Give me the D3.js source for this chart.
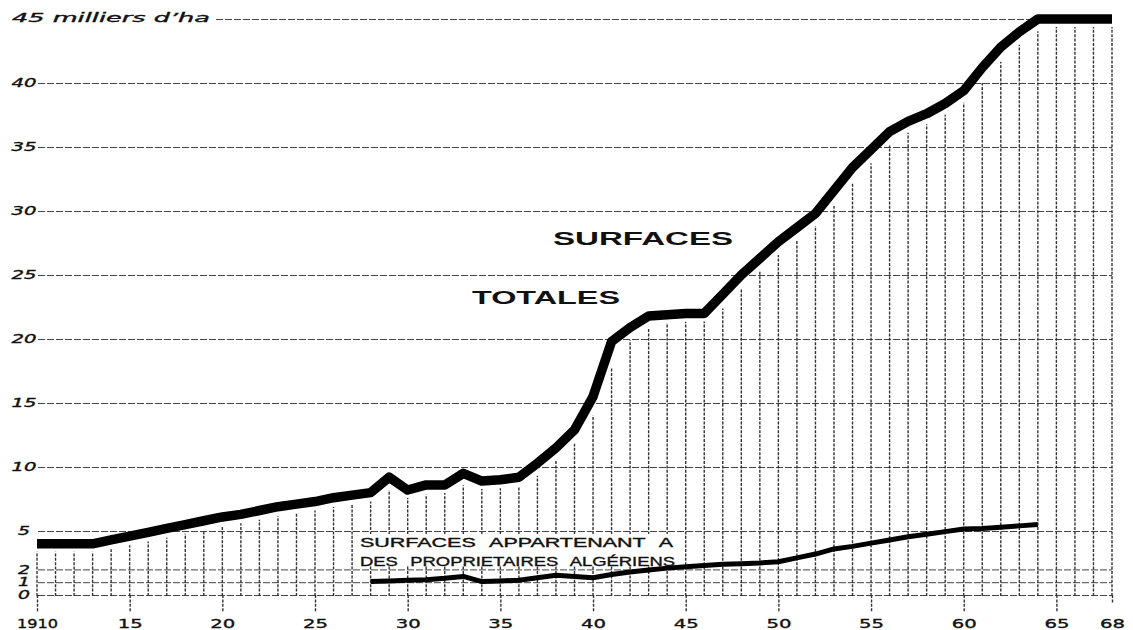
<!DOCTYPE html>
<html><head><meta charset="utf-8">
<script src="https://cdn.jsdelivr.net/npm/d3@7/dist/d3.min.js"></script>
<style>body{margin:0;background:#fff}svg{display:block}</style>
</head><body>
<svg id="c" width="1133" height="630"></svg>
<script>
// ---------- DATA ----------
const years = [1910,1911,1912,1913,1914,1915,1916,1917,1918,1919,
  1920,1921,1922,1923,1924,1925,1926,1927,1928,1929,
  1930,1931,1932,1933,1934,1935,1936,1937,1938,1939,
  1940,1941,1942,1943,1944,1945,1946,1947,1948,1949,
  1950,1951,1952,1953,1954,1955,1956,1957,1958,1959,
  1960,1961,1962,1963,1964,1965,1966,1967,1968];
const totalSurfaces = [4.0,4.0,4.0,4.0,4.3,4.6,4.9,5.2,5.5,5.8,
  6.1,6.3,6.6,6.9,7.1,7.3,7.6,7.8,8.0,9.2,
  8.2,8.6,8.6,9.5,8.9,9.0,9.2,10.3,11.5,12.9,
  15.5,19.8,20.9,21.8,21.9,22.0,22.0,23.5,25.0,26.3,
  27.6,28.7,29.8,31.6,33.4,34.8,36.2,37.0,37.6,38.4,
  39.4,41.2,42.8,44.0,45.0,45.0,45.0,45.0,45.0];
const algerianYears = [1928,1929,1930,1931,1932,1933,1934,1935,1936,1937,
  1938,1939,1940,1941,1942,1943,1944,1945,1946,1947,
  1948,1949,1950,1951,1952,1953,1954,1955,1956,1957,
  1958,1959,1960,1961,1962,1963,1964];
const algerianSurfaces = [1.05,1.1,1.15,1.2,1.3,1.45,1.05,1.1,1.15,1.35,
  1.55,1.45,1.35,1.6,1.8,1.95,2.1,2.2,2.3,2.4,
  2.45,2.5,2.6,2.9,3.2,3.6,3.8,4.05,4.3,4.55,
  4.75,4.95,5.15,5.2,5.3,5.4,5.5];
const yTickValues = [0,1,2,5,10,15,20,25,30,35,40,45];
const xTickValues = [1910,1915,1920,1925,1930,1935,1940,1945,1950,1955,1960,1965,1968];
const xTickLabels = ["1910","15","20","25","30","35","40","45","50","55","60","65","68"];
const yUnitLabel = "45 milliers d\u2019ha";
const titleLines = ["SURFACES","TOTALES"];
const subLabelLines = ["SURFACES APPARTENANT A","DES PROPRIETAIRES ALGÉRIENS"];

// ---------- CHART ----------
const svg = d3.select("#c");
const x = d3.scaleLinear().domain([1910,1968]).range([37,1112]);
const y = d3.scaleLinear().domain([0,45]).range([595,19]);
const ink = "#111";

const totals = years.map((yr,i)=>({year:yr, v:totalSurfaces[i]}));
const alg = algerianYears.map((yr,i)=>({year:yr, v:algerianSurfaces[i]}));

// Y axis with gridlines
const gridLeft = 38;
const yAxis = d3.axisLeft(y).tickValues(yTickValues)
  .tickSize(-(x.range()[1]-gridLeft)).tickPadding(14).tickFormat(d=>d);
const gy = svg.append("g").attr("transform",`translate(${gridLeft},0)`).call(yAxis);
gy.select(".domain").remove();
gy.selectAll(".tick line").attr("stroke","#444").attr("stroke-width",1)
  .attr("stroke-dasharray","7,2");
gy.selectAll(".tick text")
  .attr("fill",ink).attr("font-family","DejaVu Sans, sans-serif")
  .attr("font-style","italic").attr("font-size",11.5)
  .attr("stroke",ink).attr("stroke-width",0.35)
  .attr("text-anchor","middle")
  .attr("lengthAdjust","spacingAndGlyphs")
  .attr("textLength",d=>String(d).length>1?25:12);
gy.selectAll(".tick").filter(d=>d===45).each(function(){
  const t=d3.select(this);
  t.select("line").attr("x1",216-gridLeft);
  t.select("text").text(yUnitLabel).attr("text-anchor","start")
    .attr("x",12-gridLeft).attr("dy","0.2em").attr("font-size",12.5)
    .attr("textLength",198);
});

// helper: pixel y of totals polyline at given pixel x
function yAtPx(px){
  const yr = Math.max(1910, Math.min(1968, x.invert(px)));
  let i = d3.bisectRight(years, yr) - 1;
  if(i >= years.length-1) i = years.length-2;
  const t = (yr - years[i])/(years[i+1]-years[i]);
  return y(totalSurfaces[i] + t*(totalSurfaces[i+1]-totalSurfaces[i]));
}

// vertical hatching (one per year)
svg.append("g").selectAll("line").data(totals).join("line")
  .attr("x1",d=>x(d.year)).attr("x2",d=>x(d.year))
  .attr("y1",y(0)+1)
  .attr("y2",d=>{const px=x(d.year);
     return Math.max(yAtPx(px-6),yAtPx(px),yAtPx(px+6))+8;})
  .attr("stroke","#333").attr("stroke-width",1.4)
  .attr("stroke-dasharray","3,1.4");

// X axis (long ticks below zero line + labels)
const xAxis = d3.axisBottom(x).tickValues(xTickValues)
  .tickFormat((d,i)=>xTickLabels[i]).tickSize(17).tickPadding(7);
const gx = svg.append("g").attr("transform",`translate(0,${y(0)})`).call(xAxis);
gx.select(".domain").remove();
gx.selectAll(".tick line").attr("stroke","#333").attr("stroke-width",1.4)
  .attr("stroke-dasharray","3,1.4")
  .attr("y2",d=>d===1968?8:17);
gx.selectAll(".tick text").attr("fill",ink)
  .attr("font-family","DejaVu Sans, sans-serif").attr("font-size",12.5)
  .attr("stroke",ink).attr("stroke-width",0.35)
  .attr("lengthAdjust","spacingAndGlyphs")
  .attr("textLength",(d,i)=>xTickLabels[i].length>2?41:25);

// totals curve
const line = d3.line().x(d=>x(d.year)).y(d=>y(d.v));
svg.append("path").datum(totals).attr("d",line)
  .attr("fill","none").attr("stroke","#000").attr("stroke-width",9.5)
  .attr("stroke-linejoin","round").attr("stroke-linecap","butt");

// sub-label with white backing
const sub = svg.append("g");
sub.selectAll("text").data(subLabelLines).join("text")
  .attr("x",360).attr("y",(d,i)=>547+i*18.5)
  .attr("font-family","Liberation Sans, Arial, sans-serif")
  .attr("font-size",12.5).attr("fill",ink)
  .attr("stroke",ink).attr("stroke-width",0.35)
  .attr("word-spacing",5)
  .attr("lengthAdjust","spacingAndGlyphs")
  .attr("textLength",(d,i)=>i?315:313)
  .text(d=>d);
const bb = sub.node().getBBox();
sub.insert("rect","text").attr("x",bb.x-4).attr("y",bb.y-2)
  .attr("width",bb.width+8).attr("height",bb.height-1).attr("fill","#fff");

// Algerian owners curve
svg.append("path").datum(alg).attr("d",line)
  .attr("fill","none").attr("stroke","#000").attr("stroke-width",5)
  .attr("stroke-linejoin","round").attr("stroke-linecap","butt");

// big titles
svg.append("g").selectAll("text").data(titleLines).join("text")
  .attr("x",(d,i)=>i?472:553).attr("y",(d,i)=>i?304:245)
  .attr("font-family","Liberation Sans, Arial, sans-serif")
  .attr("font-weight","bold").attr("font-size",18).attr("fill",ink)
  .attr("lengthAdjust","spacingAndGlyphs")
  .attr("textLength",(d,i)=>i?148:180)
  .text(d=>d);
</script>
</body></html>
